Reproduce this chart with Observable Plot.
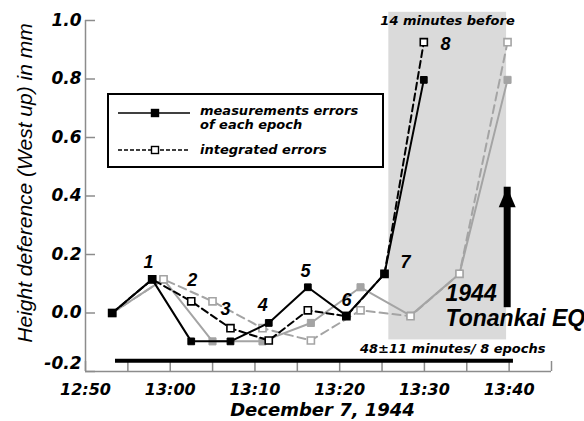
<!DOCTYPE html>
<html><head><meta charset="utf-8">
<script src="https://cdn.jsdelivr.net/npm/d3@7"></script>
<script src="https://cdn.jsdelivr.net/npm/@observablehq/plot@0.6"></script>
<style>
body{margin:0;background:#fff;}
#chart{position:relative;width:584px;height:421px;overflow:hidden;background:#fff;}
</style></head><body><div id="chart"></div>
<script>
// Times are minutes after 12:50, December 7, 1944
const epochNames = ["0","1","2","3","4","5","6","7","8"];
const obsTimes = [3.15, 7.87, 12.48, 17.11, 21.63, 26.24, 30.79, 35.29, 39.93];
const adjTimes = [3.15, 9.21, 14.99, 20.89, 26.6, 32.46, 38.36, 44.14, 49.81];
const measErrors = [0.0, 0.115, -0.097, -0.097, -0.034, 0.088, -0.009, 0.134, 0.797];
const integratedErrors = [0.0, 0.115, 0.04, -0.052, -0.094, 0.009, -0.011, 0.134, 0.926];

const xTickMinutes = [0, 5, 10, 15, 20, 25, 30, 35, 40, 45, 50, 55];
const xLabelMinutes = [0, 10, 20, 30, 40, 50];
const xTickLabels = ["12:50", "13:00", "13:10", "13:20", "13:30", "13:40"];
const yTickValues = [-0.2, 0, 0.2, 0.4, 0.6, 0.8, 1.0];
const yTickLabels = ["-0.2", "0.0", "0.2", "0.4", "0.6", "0.8", "1.0"];

const epochLabels = ["1","2","3","4","5","6","7","8"];
const epochLabelT = [7.44, 12.59, 16.52, 20.93, 25.97, 30.79, 37.77, 42.49];
const epochLabelV = [0.173, 0.111, 0.014, 0.026, 0.142, 0.043, 0.172, 0.92];

const shadeWindow = [{start: 35.8, end: 49.7, low: -0.092, high: 1.028}];
const spanBar = [{start: 3.54, end: 50.51, v: -0.163}];
const eqArrow = [{t: 49.77, base: 0.066, tip: 0.43}];
const windowNote = [{text: "14 minutes before", t: 42.73, v: 1.0}];
const spanNote = [{text: "48±11 minutes/ 8 epochs", t: 54.29, v: -0.121}];
const eqNotes = [
  {text: "1944", t: 42.49, v: 0.067},
  {text: "Tonankai EQ", t: 42.49, v: -0.02}
];

const rows = (times, vals) => vals.map((v, i) => ({t: times[i], v, epoch: epochNames[i]}));
const blackMeas = rows(obsTimes, measErrors);
const blackInt = rows(obsTimes, integratedErrors);
const grayMeas = rows(adjTimes, measErrors);
const grayInt = rows(adjTimes, integratedErrors);
const labelRows = epochLabels.map((l, i) => ({l, t: epochLabelT[i], v: epochLabelV[i]}));

const GRAY = "#a4a4a4";
const AXIS = "#8c8c8c";
const DV = "DejaVu Sans";
const LS = "Liberation Sans, Arial, sans-serif";
const bold = {fontWeight: "bold", fontStyle: "italic", fill: "black"};
const arrowHead = {draw(c) { c.moveTo(0, 0); c.lineTo(8.5, 20); c.lineTo(-8.5, 20); c.closePath(); }};

const plot = Plot.plot({
  width: 584, height: 421,
  marginLeft: 85, marginRight: 33, marginTop: 20, marginBottom: 50,
  x: {domain: [0, 55]},
  y: {domain: [-0.2, 1.0]},
  style: {fontFamily: DV, background: "white", overflow: "visible"},
  marks: [
    Plot.rect(shadeWindow, {x1: "start", x2: "end", y1: "low", y2: "high", fill: "#dadada"}),
    Plot.ruleX([0], {y1: -0.2, y2: 1.0, stroke: AXIS, strokeWidth: 1.5}),
    Plot.ruleY([-0.2], {x1: 0, x2: 55, stroke: AXIS, strokeWidth: 1.5}),
    Plot.axisX({ticks: xTickMinutes, tickSize: -10, fill: "none", stroke: AXIS, strokeWidth: 1.5, label: null}),
    Plot.axisX({ticks: xLabelMinutes, tickSize: 0, tickPadding: 12, stroke: "none", ...bold,
      tickFormat: d => xTickLabels[xLabelMinutes.indexOf(d)], fontSize: 16, fontFamily: DV, label: null}),
    Plot.axisY({ticks: yTickValues, tickSize: -10, fill: "none", stroke: AXIS, strokeWidth: 1.5, label: null}),
    Plot.axisY({ticks: yTickValues.slice(1), tickSize: 0, tickPadding: 4, stroke: "none", ...bold,
      tickFormat: d => yTickLabels[yTickValues.indexOf(d)], fontSize: 17, fontFamily: DV, label: null}),
    Plot.axisY({ticks: yTickValues.slice(0, 1), tickSize: 0, tickPadding: 4, dy: -8, stroke: "none", ...bold,
      tickFormat: d => yTickLabels[yTickValues.indexOf(d)], fontSize: 17, fontFamily: DV, label: null}),
    // bar of observation span
    Plot.ruleY(spanBar, {y: "v", x1: "start", x2: "end", stroke: "black", strokeWidth: 4}),
    // gray (adjusted time) series
    Plot.line(grayInt, {x: "t", y: "v", stroke: GRAY, strokeWidth: 2, strokeDasharray: "8,5"}),
    Plot.line(grayMeas, {x: "t", y: "v", stroke: GRAY, strokeWidth: 2}),
    Plot.dot(grayMeas, {x: "t", y: "v", symbol: "square", r: 4, fill: GRAY, stroke: GRAY, strokeWidth: 1}),
    Plot.dot(grayInt, {x: "t", y: "v", symbol: "square", r: 4, fill: "white", stroke: GRAY, strokeWidth: 1.6}),
    // black (observed time) series
    Plot.line(blackInt, {x: "t", y: "v", stroke: "black", strokeWidth: 2, strokeDasharray: "7,4"}),
    Plot.line(blackMeas, {x: "t", y: "v", stroke: "black", strokeWidth: 2}),
    Plot.dot(blackInt, {x: "t", y: "v", symbol: "square", r: 4, fill: "white", stroke: "black", strokeWidth: 1.6}),
    Plot.dot(blackMeas, {x: "t", y: "v", symbol: "square", r: 3.8, fill: "black", stroke: "black", strokeWidth: 1}),
    // epoch numbers
    Plot.text(labelRows, {x: "t", y: "v", text: "l", fontSize: 18, fontFamily: LS, ...bold}),
    // notes
    Plot.text(windowNote, {x: "t", y: "v", text: "text", textAnchor: "middle", fontSize: 13, fontFamily: DV, ...bold}),
    Plot.text(spanNote, {x: "t", y: "v", text: "text", textAnchor: "end", fontSize: 13, fontFamily: DV, ...bold}),
    Plot.text(eqNotes, {x: "t", y: "v", text: "text", textAnchor: "start", fontSize: 23, fontFamily: LS, ...bold}),
    // earthquake arrow
    Plot.ruleX(eqArrow, {x: "t", y1: "base", y2: "tip", insetTop: 14, stroke: "black", strokeWidth: 7}),
    Plot.dot(eqArrow, {x: "t", y: "tip", symbol: arrowHead, r: 5, fill: "black", stroke: "none"}),
    // axis titles
    Plot.text(["Height deference (West up) in mm"], {frameAnchor: "left", textAnchor: "middle", lineAnchor: "middle",
      rotate: -90, dx: -60, dy: -13, fontSize: 21, fontStyle: "italic", fontFamily: LS, fill: "black"}),
    Plot.text(["December 7, 1944"], {frameAnchor: "bottom", textAnchor: "middle", lineAnchor: "middle",
      dx: 4, dy: 39, fontSize: 18, fontFamily: DV, ...bold})
  ]
});

document.getElementById("chart").appendChild(plot);

// Legend box drawn inside the plot's SVG
const svg = d3.select(plot);
const lg = svg.append("g").attr("font-family", DV).attr("font-weight", "bold").attr("font-style", "italic")
  .attr("font-size", 13).attr("text-anchor", "start");
lg.append("rect").attr("x", 108).attr("y", 94).attr("width", 275).attr("height", 73)
  .attr("fill", "white").attr("stroke", "black").attr("stroke-width", 2);
const legendItems = [
  {lines: ["measurements errors", "of each epoch"], dash: null, fill: "black", y: 113, textY: 111},
  {lines: ["integrated errors"], dash: "4,2", fill: "white", y: 150, textY: 150}
];
legendItems.forEach(it => {
  lg.append("line").attr("x1", 118).attr("x2", 190).attr("y1", it.y).attr("y2", it.y)
    .attr("stroke", "black").attr("stroke-width", 1.6).attr("stroke-dasharray", it.dash);
  lg.append("rect").attr("x", 151.5).attr("y", it.y - 3.5).attr("width", 7).attr("height", 7)
    .attr("fill", it.fill).attr("stroke", "black").attr("stroke-width", 1.4);
  it.lines.forEach((t, j) => {
    lg.append("text").attr("x", 200).attr("y", it.textY + j * 13.5).attr("dy", "0.32em").attr("fill", "black")
      .style("font-size", "13px").text(t);
  });
});
</script>
</body></html>
